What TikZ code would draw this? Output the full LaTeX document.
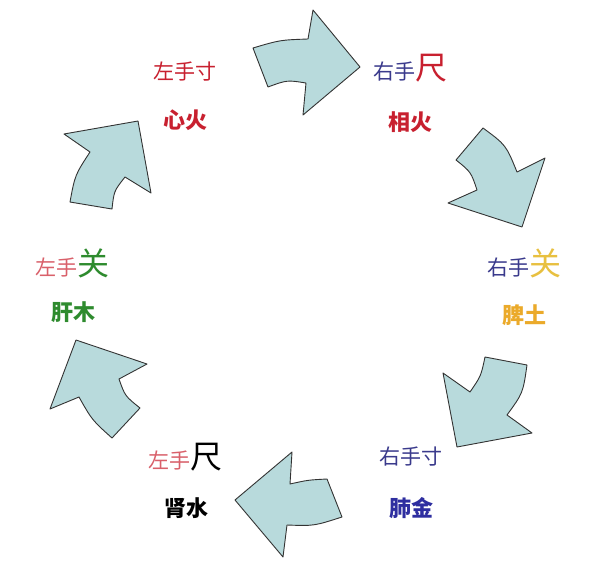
\documentclass[tikz,border=0pt]{standalone}
\usepackage{fontspec}
\newfontfamily\cjk{Noto Sans CJK SC}

\definecolor{arrowblue}{HTML}{B8DADC}
\definecolor{labelred}{HTML}{C8202F}
\definecolor{pinkred}{HTML}{D9606A}
\definecolor{navy}{HTML}{3A3A8C}
\definecolor{lungblue}{HTML}{2E2EA0}
\definecolor{gold}{HTML}{E8C040}
\definecolor{earth}{HTML}{EBAA2A}
\definecolor{wood}{HTML}{2E8B2E}

\newcommand\bigzi[1]{{\fontsize{32}{32}\selectfont #1}}

\begin{document}
\begin{tikzpicture}[x=1pt,y=-1pt,
    blockarrow/.style={fill=arrowblue,draw=black!80,line width=0.9pt,line join=round},
    pulse/.style={font=\cjk\fontsize{21}{21}\selectfont,inner sep=0pt},
    organ/.style={font=\cjk\bfseries\fontsize{22}{22}\selectfont,inner sep=0pt}]

    \useasboundingbox[fill=white] (0,0) rectangle (595,568);

    \def\toparrow{(253,48) .. controls (280,40) .. (308,39) -- (313,10) -- (360,67) -- (303,115) -- (306,83) .. controls (287,80) .. (268,87) -- cycle}
    \def\rightuparrow{(483,128) .. controls (506,145) .. (517,172) -- (545,158) -- (522,227) -- (448,203) -- (477,190) .. controls (471,172) .. (456,160) -- cycle}
    \def\rightdownarrow{(527,365) .. controls (523,393) .. (507,415) -- (532,433) -- (457,447) -- (443,373) -- (470,392) .. controls (481,376) .. (485,357) -- cycle}
    \def\bottomarrow{(342,517) .. controls (314,526) .. (287,525) -- (283,557) -- (235,500) -- (292,452) -- (290,484) .. controls (308,480) .. (327,479) -- cycle}
    \def\leftdownarrow{(112,438) .. controls (92,420) .. (79,397) -- (50,409) -- (76,340) -- (147,364) -- (119,379) .. controls (125,396) .. (140,408) -- cycle}
    \def\leftuparrow{(70,202) .. controls (75,175) .. (90,152) -- (64,134) -- (138,121) -- (151,193) -- (125,177) .. controls (114,191) .. (112,209) -- cycle}

    %draw arrows:
    \draw[blockarrow] \toparrow;
    \draw[blockarrow] \rightuparrow;
    \draw[blockarrow] \rightdownarrow;
    \draw[blockarrow] \bottomarrow;
    \draw[blockarrow] \leftdownarrow;
    \draw[blockarrow] \leftuparrow;

    %pulse positions and organs:
    \node[pulse,text=labelred] (lcun) at (185,72) {左手寸};
    \node[organ,text=labelred] (heart) at (185,120) {心火};

    \node[pulse] (rchi) at (410,68) {\textcolor{navy}{右手}\textcolor{labelred}{\bigzi{尺}}};
    \node[organ,text=labelred] (fire) at (410,122) {相火};

    \node[pulse] (rguan) at (524,263) {\textcolor{navy}{右手}\textcolor{gold}{\bigzi{关}}};
    \node[organ,text=earth] (spleen) at (524,315) {脾土};

    \node[pulse,text=navy] (rcun) at (411,457) {右手寸};
    \node[organ,text=lungblue] (lung) at (411,508) {肺金};

    \node[pulse] (lchi) at (185,457) {\textcolor{pinkred}{左手}\textcolor{black}{\bigzi{尺}}};
    \node[organ,text=black] (kidney) at (186,508) {肾水};

    \node[pulse] (lguan) at (72,263) {\textcolor{pinkred}{左手}\textcolor{wood}{\bigzi{关}}};
    \node[organ,text=wood] (liver) at (73,312) {肝木};

\end{tikzpicture}
\end{document}
